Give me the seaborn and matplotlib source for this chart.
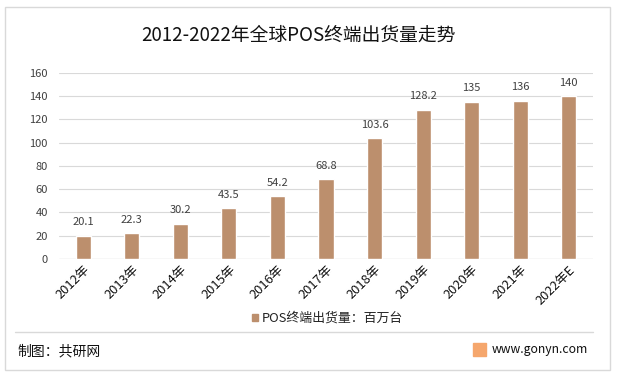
import matplotlib
matplotlib.use('Agg')
import matplotlib.pyplot as plt
import seaborn as sns
import pandas as pd
from matplotlib.patches import Rectangle

years = ['2012年', '2013年', '2014年', '2015年', '2016年', '2017年',
         '2018年', '2019年', '2020年', '2021年', '2022年E']
shipments = [20.1, 22.3, 30.2, 43.5, 54.2, 68.8, 103.6, 128.2, 135, 136, 140]
value_labels = ['20.1', '22.3', '30.2', '43.5', '54.2', '68.8',
                '103.6', '128.2', '135', '136', '140']
series_name = 'POS终端出货量：百万台'

sns.set_style('white')
plt.rcParams['font.family'] = ['Noto Sans CJK SC', 'DejaVu Sans']

bar_color = '#BC8F6D'
grid_color = '#D9D9D9'
W, H = 617, 379
df = pd.DataFrame({'year': years, 'value': shipments})

fig = plt.figure(figsize=(6.17, 3.79), dpi=100)
ax = fig.add_axes([59 / W, 1 - 259 / H, 534 / W, (259 - 72.7) / H])

sns.barplot(data=df, x='year', y='value', color=bar_color, width=0.31,
            saturation=1, ax=ax, zorder=3)

ax.set_ylim(0, 160)
ax.set_yticks(range(0, 161, 20))
ax.set_xlim(-0.5, 10.5)
ax.yaxis.grid(True, color=grid_color, linewidth=0.8, zorder=0)
for s in ax.spines.values():
    s.set_visible(False)
ax.axhline(0, color=grid_color, linewidth=0.9, zorder=1)
ax.set_xlabel('')
ax.set_ylabel('')
ax.tick_params(axis='y', length=0, labelsize=8, colors='#404040', pad=8)
ax.tick_params(axis='x', length=0, labelsize=9.3, colors='#111111', pad=3)
plt.setp(ax.get_xticklabels(), rotation=45, ha='right', rotation_mode='anchor')

for i, (v, t) in enumerate(zip(shipments, value_labels)):
    ax.text(i, v + 11.5, t, ha='center', va='center', fontsize=8, color='#404040')

# legend
fig.patches.append(Rectangle((252 / W, 1 - 321 / H), 6 / W, 7 / H,
                             transform=fig.transFigure, color=bar_color))
fig.text(262 / W, 1 - 318 / H, series_name, fontsize=9.3, color='#222222',
         va='center', ha='left')

# title
fig.text(298 / W, 1 - 35 / H, '2012-2022年全球POS终端出货量走势', fontsize=13.5,
         ha='center', va='center', color='#111111')

# frame and footer
fig.patches.append(Rectangle((5 / W, 1 - 370 / H), 605 / W, 363 / H,
                             transform=fig.transFigure, fill=False,
                             edgecolor=grid_color, linewidth=1))
fig.lines.append(plt.Line2D([15 / W, 593 / W], [1 - 332 / H, 1 - 332 / H],
                            transform=fig.transFigure, color=grid_color, linewidth=1))
fig.text(17 / W, 1 - 351 / H, '制图：共研网', fontsize=10, color='#111111',
         va='center', ha='left')
fig.patches.append(Rectangle((473 / W, 1 - 356 / H), 13 / W, 13 / H,
                             transform=fig.transFigure, color='#F5A66C'))
fig.text(492 / W, 1 - 350 / H, 'www.gonyn.com', fontsize=8.8, color='#111111',
         va='center', ha='left')

fig.savefig('out.png', dpi=100)
